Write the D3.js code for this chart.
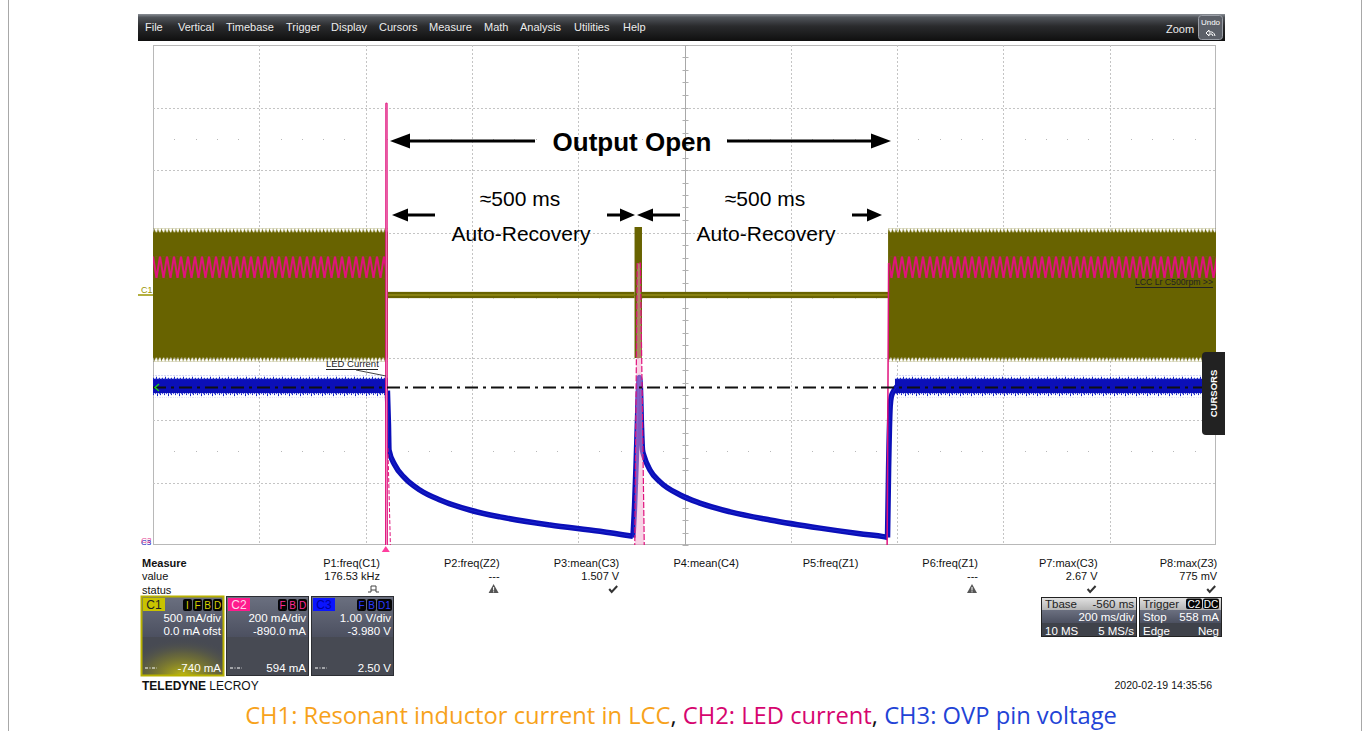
<!DOCTYPE html>
<html><head><meta charset="utf-8">
<script src="https://cdn.jsdelivr.net/npm/d3@7"></script>
<style>
html,body{margin:0;padding:0;background:#fff;}
svg{display:block;font-family:"Liberation Sans",Arial,sans-serif;}
</style></head><body>
<svg id="c" width="1371" height="731"></svg>
<script>
// ---------------- data ----------------
const menuItems = ["File","Vertical","Timebase","Trigger","Display","Cursors","Measure","Math","Analysis","Utilities","Help"];
const menuX = [145,178,226,286,331,379,429,484,520,574,623];
const timeDomain = [0, 2000];           // ms, 200 ms/div, 10 div
const divDomain = [-4, 4];              // 8 vertical divisions
const chPerDiv = [500, 200, 1.0];       // C1 mA/div, C2 mA/div, C3 V/div
const chOffset = [0, -890, -3.98];      // C1 mA, C2 mA, C3 V
// CH1 resonant inductor current (mA): [tStart, tEnd, min, max]
const ch1Active = [[0, 442, -500, 500], [1383, 2000, -500, 500]];
const ch1Burst = [[906, 920, -504, 544]];
const ch1Idle = [[442, 906, -25, 25], [920, 1383, -25, 25]];
// CH2 LED current (mA)
const ch2Active = [[0, 438, 944, 1014], [1386, 2000, 944, 1014]];
const ch2Spike = [[437.5, 0], [438, 1504], [440.5, 1504], [441, 0]];
const ch2Tail = [[442, 400], [448, 0]];
const ch2Burst = [[906, 0], [911, 992], [917, 992], [925, 0]];
const ch2Restart = [[1381, 0], [1384, 990], [1386, 990]];
// CH3 OVP pin voltage (V)
const ch3Active = [[0, 442, 2.41, 2.64], [1396, 2000, 2.41, 2.64]];
const ch3Decay1 = [[441,2.45],[443,1.9],[444,1.5],[455,1.26],[474,1.05],[502,0.86],[540,0.70],[596,0.54],[653,0.43],[747,0.30],[841,0.20],[903,0.12]];
const ch3Decay2 = [[903,0.10],[906,0.6],[909,1.3],[912,2.1],[914,2.55],[915,2.66],[917,2.5],[919,1.9],[921,1.5],[924,1.4],[935,1.18],[954,0.99],[992,0.78],[1029,0.65],[1086,0.51],[1161,0.38],[1255,0.25],[1330,0.16],[1377,0.11],[1382,0.10]];
const ch3Restart = [[1382,0.10],[1384,1.2],[1387,2.2],[1389,2.35],[1394,2.45],[1400,2.52]];
const ch3Level = 2.50;
// measurements
const measNames = ["P1:freq(C1)","P2:freq(Z2)","P3:mean(C3)","P4:mean(C4)","P5:freq(Z1)","P6:freq(Z1)","P7:max(C3)","P8:max(Z3)"];
const measValues = ["176.53 kHz","---","1.507 V","","","---","2.67 V","775 mV"];
const measStatus = ["pulse","warn","check","","","warn","check","check"];
const chLabels = ["C1","C2","C3"];
const chBadges = [["I","F","B","D"],["F","B","D"],["F","B","D1"]];
const chLine1 = ["500 mA/div","200 mA/div","1.00 V/div"];
const chLine2 = ["0.0 mA ofst","-890.0 mA","-3.980 V"];
const chLine3 = ["-740 mA","594 mA","2.50 V"];
const tbaseRows = [["Tbase","-560 ms"],["","200 ms/div"],["10 MS","5 MS/s"]];
const trigRows = [["Trigger",""],["Stop","558 mA"],["Edge","Neg"]];
const captionParts = [["CH1: Resonant inductor current in LCC","#f7a21b"],[", ","#111"],["CH2: LED current","#d6056f"],[", ","#111"],["CH3: OVP pin voltage","#2243d6"]];

// ---------------- setup ----------------
const svg = d3.select("#c");
const P = {x0:153, x1:1216, y0:45, y1:545};
const x = d3.scaleLinear().domain(timeDomain).range([P.x0, P.x1]);
const yDiv = d3.scaleLinear().domain(divDomain).range([P.y1, P.y0]);
const chY = chPerDiv.map((pd,i)=>d3.scaleLinear().domain([divDomain[0]*pd - chOffset[i], divDomain[1]*pd - chOffset[i]]).range([P.y1, P.y0]));
const [y1, y2, y3] = chY;
const OLIVE = "#686300", MAG = "#e0127d", BLUE = "#0b0fb8";

const defs = svg.append("defs");
defs.append("clipPath").attr("id","plotClip").append("rect")
  .attr("x",P.x0).attr("y",P.y0).attr("width",P.x1-P.x0).attr("height",P.y1-P.y0);
const mg = defs.append("linearGradient").attr("id","menuG").attr("x1",0).attr("y1",0).attr("x2",0).attr("y2",1);
[["0%","#8a8f96"],["12%","#50545a"],["45%","#2a2b2d"],["100%","#0f0f0f"]].forEach(s=>mg.append("stop").attr("offset",s[0]).attr("stop-color",s[1]));
const bg = defs.append("linearGradient").attr("id","boxG").attr("x1",0).attr("y1",0).attr("x2",0).attr("y2",1);
[["0%","#6b7080"],["100%","#4c5060"]].forEach(s=>bg.append("stop").attr("offset",s[0]).attr("stop-color",s[1]));
const lg = defs.append("linearGradient").attr("id","lightG").attr("x1",0).attr("y1",0).attr("x2",0).attr("y2",1);
[["0%","#e4e4e4"],["100%","#b4b4b4"]].forEach(s=>lg.append("stop").attr("offset",s[0]).attr("stop-color",s[1]));
const rg = defs.append("radialGradient").attr("id","glowG").attr("cx","50%").attr("cy","100%").attr("r","75%");
[["0%","#d8d000",0.85],["60%","#8a8620",0.4],["100%","#474a52",0]].forEach(s=>rg.append("stop").attr("offset",s[0]).attr("stop-color",s[1]).attr("stop-opacity",s[2]));

// page frame
svg.append("line").attr("x1",8.5).attr("x2",8.5).attr("y1",0).attr("y2",731).attr("stroke","#a8a8a8");
svg.append("line").attr("x1",1361.5).attr("x2",1361.5).attr("y1",0).attr("y2",731).attr("stroke","#a8a8a8");

// menu bar
svg.append("rect").attr("x",138).attr("y",14).attr("width",1087).attr("height",27).attr("fill","url(#menuG)");
svg.selectAll("text.menu").data(menuItems).join("text").attr("class","menu")
  .attr("x",(d,i)=>menuX[i]).attr("y",31).attr("fill","#ececec").attr("font-size",11).text(d=>d);
svg.append("text").attr("x",1166).attr("y",33).attr("fill","#ececec").attr("font-size",11).text("Zoom");
svg.append("rect").attr("x",1198.5).attr("y",15.5).attr("width",24).attr("height",24).attr("rx",3)
  .attr("fill","#5c6068").attr("stroke","#9a9ea6");
svg.append("text").attr("x",1210.5).attr("y",25).attr("text-anchor","middle").attr("fill","#fff").attr("font-size",8).text("Undo");
svg.append("path").attr("d","M1215,36 q-1,-5 -6,-4 l0,-2 l-3,3 l3,3 l0,-2 q4,-1 4,2").attr("fill","none").attr("stroke","#fff").attr("stroke-width",1);

// ---------------- grid ----------------
const grid = svg.append("g");
grid.append("rect").attr("x",P.x0+0.5).attr("y",P.y0+0.5).attr("width",P.x1-P.x0-1).attr("height",P.y1-P.y0-1)
  .attr("fill","none").attr("stroke","#b8b8b8");
d3.range(1,10).filter(i=>i!==5).forEach(i=>{
  const xx = Math.round(x(i*200))+0.5;
  grid.append("line").attr("x1",xx).attr("x2",xx).attr("y1",P.y0).attr("y2",P.y1)
    .attr("stroke","#c4c4c4").attr("stroke-dasharray","2,2");
});
d3.range(-3,4).filter(j=>j!==0).forEach(j=>{
  const yy = Math.round(yDiv(j))+0.5;
  grid.append("line").attr("x1",P.x0).attr("x2",P.x1).attr("y1",yy).attr("y2",yy)
    .attr("stroke","#c4c4c4").attr("stroke-dasharray","2,2");
});
const cx = Math.round(x(1000))+0.5, cy = Math.round(yDiv(0))+0.5;
grid.append("line").attr("x1",cx).attr("x2",cx).attr("y1",P.y0).attr("y2",P.y1).attr("stroke","#a8a8a8");
grid.append("line").attr("x1",P.x0).attr("x2",P.x1).attr("y1",cy).attr("y2",cy).attr("stroke","#a8a8a8");
d3.range(-20,21).forEach(k=>{
  const yy = Math.round(yDiv(k*0.2))+0.5;
  grid.append("line").attr("x1",cx-3).attr("x2",cx+3).attr("y1",yy).attr("y2",yy).attr("stroke","#b0b0b0");
});
d3.range(1,50).forEach(k=>{
  const xx = Math.round(x(k*40))+0.5;
  grid.append("line").attr("x1",xx).attr("x2",xx).attr("y1",cy-3).attr("y2",cy+3).attr("stroke","#b0b0b0");
});
[2.5,-2.5].forEach(d=>{
  d3.range(1,50).filter(k=>k%5!==0).forEach(k=>{
    grid.append("rect").attr("x",Math.round(x(k*40))).attr("y",Math.round(yDiv(d))).attr("width",1).attr("height",1).attr("fill","#b8b8b8");
  });
});

// ---------------- traces ----------------
const tr = svg.append("g").attr("clip-path","url(#plotClip)");
function mkPattern(id, yTop, h, w, draw){
  const p = defs.append("pattern").attr("id",id).attr("patternUnits","userSpaceOnUse")
    .attr("x",P.x0).attr("y",yTop).attr("width",w).attr("height",h);
  draw(p, w, h);
}
const ch1Top = y1(500), ch1Bot = y1(-500);
mkPattern("olTop", ch1Top-4, 5, 3.6, (p,w,h)=>p.append("path").attr("d",`M0,${h} L${w*0.35},0 L${w*0.55},${h*0.4} L${w},${h} Z`).attr("fill",OLIVE));
mkPattern("olBot", ch1Bot-1, 5, 3.6, (p,w,h)=>p.append("path").attr("d",`M0,0 L${w*0.35},${h} L${w*0.55},${h*0.6} L${w},0 Z`).attr("fill",OLIVE));
ch1Active.forEach(d=>{
  tr.append("rect").attr("x",x(d[0])).attr("y",y1(d[3])).attr("width",x(d[1])-x(d[0])).attr("height",y1(d[2])-y1(d[3])).attr("fill",OLIVE);
  tr.append("rect").attr("x",x(d[0])).attr("y",ch1Top-4).attr("width",x(d[1])-x(d[0])).attr("height",5).attr("fill","url(#olTop)");
  tr.append("rect").attr("x",x(d[0])).attr("y",ch1Bot-1).attr("width",x(d[1])-x(d[0])).attr("height",5).attr("fill","url(#olBot)");
});
ch1Idle.forEach(d=>{
  tr.append("rect").attr("x",x(d[0])).attr("y",y1(d[3])).attr("width",x(d[1])-x(d[0])).attr("height",y1(d[2])-y1(d[3])).attr("fill",OLIVE);
  tr.append("line").attr("x1",x(d[0])).attr("x2",x(d[1])).attr("y1",y1(0)).attr("y2",y1(0)).attr("stroke","#a8a020").attr("stroke-width",1.2);
});
ch1Burst.forEach(d=>{
  tr.append("rect").attr("x",x(d[0])).attr("y",y1(d[3])).attr("width",x(d[1])-x(d[0])).attr("height",y1(d[2])-y1(d[3])).attr("fill",OLIVE);
});

// CH3 blue
mkPattern("blTop", y3(2.64)-3, 4, 9, (p)=>{
  [[0,2],[2,1],[3,3],[5,1],[6,2],[8,1]].forEach(r=>p.append("rect").attr("x",r[0]).attr("y",4-r[1]).attr("width",1).attr("height",r[1]).attr("fill","#1a28c8"));
});
mkPattern("blBot", y3(2.41), 4, 11, (p)=>{
  [[0,2],[2,1],[4,3],[6,1],[7,2],[9,1]].forEach(r=>p.append("rect").attr("x",r[0]).attr("y",0).attr("width",1).attr("height",r[1]).attr("fill","#1a28c8"));
});
ch3Active.forEach(d=>{
  tr.append("rect").attr("x",x(d[0])).attr("y",y3(d[3])).attr("width",x(d[1])-x(d[0])).attr("height",y3(d[2])-y3(d[3])).attr("fill",BLUE);
  tr.append("rect").attr("x",x(d[0])).attr("y",y3(2.64)-3).attr("width",x(d[1])-x(d[0])).attr("height",4).attr("fill","url(#blTop)");
  tr.append("rect").attr("x",x(d[0])).attr("y",y3(2.41)).attr("width",x(d[1])-x(d[0])).attr("height",4).attr("fill","url(#blBot)");
});
const line3 = d3.line().x(d=>x(d[0])).y(d=>y3(d[1])).curve(d3.curveMonotoneX);
[ch3Decay1, ch3Decay2, ch3Restart].forEach(arr=>{
  tr.append("path").attr("d",line3(arr)).attr("fill","none").attr("stroke",BLUE).attr("stroke-width",5.5).attr("stroke-linejoin","round");
  tr.append("path").attr("d",line3(arr)).attr("fill","none").attr("stroke","#2030d8").attr("stroke-width",1).attr("opacity",0.6);
});

// CH2 magenta
const bandTop = y2(1014), bandH = y2(944)-y2(1014);
mkPattern("zig", bandTop, bandH, 7, (p,w,h)=>p.append("path").attr("d",`M0,0 L${w/2},${h} L${w},0`).attr("fill","none").attr("stroke",MAG).attr("stroke-width",2));
ch2Active.forEach(d=>{
  tr.append("rect").attr("x",x(d[0])).attr("y",bandTop).attr("width",x(d[1])-x(d[0])).attr("height",bandH).attr("fill","url(#zig)");
});
const line2 = d3.line().x(d=>x(d[0])).y(d=>y2(d[1]));
tr.append("path").attr("d",line2(ch2Spike)+"Z").attr("fill","#f2a6cc").attr("stroke",MAG).attr("stroke-width",1);
tr.append("path").attr("d",line2(ch2Tail)).attr("fill","none").attr("stroke",MAG).attr("stroke-width",1).attr("stroke-dasharray","4,2");
tr.append("path").attr("d",line2(ch2Burst)).attr("fill","#f2a6cc").attr("fill-opacity",0.5).attr("stroke",MAG).attr("stroke-width",1.2).attr("stroke-dasharray","6,2");
tr.append("path").attr("d",line2(ch2Restart)).attr("fill","none").attr("stroke",MAG).attr("stroke-width",1.5);

// CH3 reference level (dash-dot)
tr.append("line").attr("x1",P.x0).attr("x2",P.x1).attr("y1",y3(ch3Level)).attr("y2",y3(ch3Level))
  .attr("stroke","#111").attr("stroke-width",2).attr("stroke-dasharray","13,5,3,5");

// ---------------- markers/labels inside scope ----------------
svg.append("text").attr("x",141).attr("y",293).attr("font-size",9).attr("fill","#9a9400").text("C1");
svg.append("line").attr("x1",138).attr("x2",P.x0).attr("y1",y1(0)).attr("y2",y1(0)).attr("stroke","#9a9400").attr("stroke-width",1.5);
svg.append("text").attr("x",141).attr("y",545).attr("font-size",8).attr("fill",BLUE)
  .html('C3<tspan dx="-10" dy="-2" fill="'+MAG+'" opacity="0.8">C2</tspan>');
svg.append("path").attr("d",`M${P.x0+6},${y3(ch3Level)-3.5} L${P.x0+2},${y3(ch3Level)} L${P.x0+6},${y3(ch3Level)+3.5}`)
  .attr("fill","none").attr("stroke","#1ec81e").attr("stroke-width",1.5);
const trigX = x(438);
svg.append("path").attr("d",`M${trigX-4},${552} L${trigX+4},${552} L${trigX},${546} Z`).attr("fill","#ff3d9e");
// LED current label
svg.append("text").attr("x",326).attr("y",367).attr("font-size",9.5).attr("fill","#222").text("LED Current");
svg.append("line").attr("x1",326).attr("x2",378).attr("y1",369.5).attr("y2",369.5).attr("stroke","#222");
svg.append("line").attr("x1",356).attr("x2",386).attr("y1",370).attr("y2",376).attr("stroke","#444");
// LCC label
svg.append("text").attr("x",1135).attr("y",285).attr("font-size",9.5).attr("fill","#222")
  .attr("textLength",78).attr("lengthAdjust","spacingAndGlyphs").text("LCC Lr C500rpm >>");
svg.append("line").attr("x1",1135).attr("x2",1213).attr("y1",287.5).attr("y2",287.5).attr("stroke","#222");
// CURSORS tab
svg.append("path").attr("d","M1225,352 L1206,352 Q1202,352 1202,356 L1202,431 Q1202,435 1206,435 L1225,435 Z").attr("fill","#222");
svg.append("text").attr("transform","translate(1217,393.5) rotate(-90)").attr("text-anchor","middle")
  .attr("font-size",9.5).attr("font-weight","bold").attr("fill","#fff").text("CURSORS");

// ---------------- annotations ----------------
const ann = svg.append("g");
function arrow(xTail, xHead, yy, lw, hl, hw){
  const dir = Math.sign(xHead - xTail);
  ann.append("line").attr("x1",xTail).attr("x2",xHead - dir*hl*0.8).attr("y1",yy).attr("y2",yy).attr("stroke","#000").attr("stroke-width",lw);
  ann.append("path").attr("d",`M${xHead},${yy} L${xHead-dir*hl},${yy-hw/2} L${xHead-dir*hl},${yy+hw/2} Z`).attr("fill","#000");
}
arrow(535, 390, 141, 3, 20, 15);
arrow(727, 891, 141, 3, 20, 15);
ann.append("text").attr("x",632).attr("y",151).attr("text-anchor","middle").attr("font-size",26).attr("font-weight","bold").text("Output Open");
arrow(435, 392, 215, 3, 16, 13);
arrow(607, 635, 215, 3, 15, 13);
arrow(680, 637, 215, 3, 16, 13);
arrow(852, 882, 215, 3, 15, 13);
[[520],[765]].forEach(c=>{
  ann.append("text").attr("x",c[0]).attr("y",206).attr("text-anchor","middle").attr("font-size",21).text("≈500 ms");
  ann.append("text").attr("x",c[0]+1).attr("y",241).attr("text-anchor","middle").attr("font-size",21).text("Auto-Recovery");
});

// ---------------- measurement table ----------------
const mt = svg.append("g").attr("font-size",11).attr("fill","#111");
mt.append("text").attr("x",142).attr("y",567).attr("font-weight","bold").text("Measure");
mt.append("text").attr("x",142).attr("y",580).text("value");
mt.append("text").attr("x",142).attr("y",594).text("status");
const colR = measNames.map((d,i)=>380 + i*119.6);
mt.selectAll("text.mn").data(measNames).join("text").attr("class","mn").attr("x",(d,i)=>colR[i]).attr("y",567).attr("text-anchor","end").text(d=>d);
mt.selectAll("text.mv").data(measValues).join("text").attr("class","mv").attr("x",(d,i)=>colR[i]).attr("y",580).attr("text-anchor","end").text(d=>d);
measStatus.forEach((s,i)=>{
  const cxs = colR[i]-6, cys = 589;
  if(s==="check"){
    mt.append("path").attr("d",`M${cxs-4},${cys} L${cxs-1.5},${cys+3} L${cxs+4},${cys-3}`).attr("fill","none").attr("stroke","#333").attr("stroke-width",2);
  } else if(s==="warn"){
    mt.append("path").attr("d",`M${cxs},${cys-5} L${cxs+5},${cys+4} L${cxs-5},${cys+4} Z`).attr("fill","#555");
    mt.append("rect").attr("x",cxs-0.5).attr("y",cys-2).attr("width",1).attr("height",3.5).attr("fill","#fff");
    mt.append("rect").attr("x",cxs-0.5).attr("y",cys+2.3).attr("width",1).attr("height",1).attr("fill","#fff");
  } else if(s==="pulse"){
    mt.append("path").attr("d",`M${cxs-6},${cys+3} L${cxs-3},${cys+3} L${cxs-3},${cys-3} L${cxs+2},${cys-3} L${cxs+2},${cys+3} L${cxs+5},${cys+3}`).attr("fill","none").attr("stroke","#444").attr("stroke-width",1);
    mt.append("line").attr("x1",cxs-3).attr("x2",cxs+2).attr("y1",cys+1).attr("y2",cys+1).attr("stroke","#444");
  }
});

// channel boxes
const tabFill = ["#c9c300","#ff1b8d","#0a14ff"], tabText = ["#222","#ffd6ea","#0000a0"], badgeText = ["#d8d000","#ff2a95","#2a3aff"];
chLabels.forEach((lab,i)=>{
  const bx = 141 + i*85, by = 596, bw = 83, bh = 80;
  const g = svg.append("g");
  g.append("rect").attr("x",bx).attr("y",by).attr("width",bw).attr("height",41).attr("fill","url(#boxG)");
  g.append("rect").attr("x",bx).attr("y",by+41).attr("width",bw).attr("height",bh-41).attr("fill","#474a53");
  if(i===0) g.append("rect").attr("x",bx).attr("y",by+30).attr("width",bw).attr("height",bh-30).attr("fill","url(#glowG)");
  g.append("rect").attr("x",bx+0.5).attr("y",by+0.5).attr("width",bw-1).attr("height",bh-1).attr("fill","none")
    .attr("stroke", i===0 ? "#b7b000" : "#2c2e33").attr("stroke-width", i===0 ? 2 : 1);
  g.append("rect").attr("x",bx+2).attr("y",by+2).attr("width",22).attr("height",13).attr("fill",tabFill[i]);
  g.append("text").attr("x",bx+13).attr("y",by+13).attr("text-anchor","middle").attr("font-size",12).attr("fill",tabText[i]).text(lab);
  const bad = chBadges[i];
  let rx = bx + bw - 2;
  for(let k=bad.length-1;k>=0;k--){
    const w = bad[k].length>1 ? 15 : 9;
    rx -= w;
    g.append("rect").attr("x",rx).attr("y",by+3).attr("width",w).attr("height",12).attr("rx",2).attr("fill","#050505");
    g.append("text").attr("x",rx+w/2).attr("y",by+13).attr("text-anchor","middle").attr("font-size",10).attr("fill",badgeText[i]).text(bad[k]);
    rx -= 1;
  }
  g.append("text").attr("x",bx+bw-3).attr("y",by+26).attr("text-anchor","end").attr("font-size",11.5).attr("fill","#fff").text(chLine1[i]);
  g.append("text").attr("x",bx+bw-3).attr("y",by+39).attr("text-anchor","end").attr("font-size",11.5).attr("fill","#fff").text(chLine2[i]);
  g.append("text").attr("x",bx+bw-3).attr("y",by+76).attr("text-anchor","end").attr("font-size",11.5).attr("fill","#fff").text(chLine3[i]);
  g.append("line").attr("x1",bx+4).attr("x2",bx+16).attr("y1",by+72).attr("y2",by+72).attr("stroke","#fff").attr("stroke-dasharray","3,1.5,1,1.5");
});
svg.append("text").attr("x",142).attr("y",690).attr("font-size",12).attr("fill","#111")
  .html('<tspan font-weight="bold">TELEDYNE</tspan> LECROY');

// timebase & trigger boxes
function infoBox(bx, bw, rows, badges){
  const g = svg.append("g").attr("font-size",11.5);
  const by = 597;
  g.append("rect").attr("x",bx).attr("y",by).attr("width",bw).attr("height",40).attr("fill","#3f424a");
  g.append("rect").attr("x",bx).attr("y",by).attr("width",bw).attr("height",13).attr("fill","url(#lightG)");
  g.append("rect").attr("x",bx).attr("y",by+13).attr("width",bw).attr("height",13).attr("fill","url(#boxG)");
  g.append("rect").attr("x",bx+0.5).attr("y",by+0.5).attr("width",bw-1).attr("height",39).attr("fill","none").attr("stroke","#222");
  rows.forEach((r,k)=>{
    const col = k===0 ? "#222" : "#fff";
    g.append("text").attr("x",bx+4).attr("y",by+11+k*13.3).attr("fill",col).text(r[0]);
    g.append("text").attr("x",bx+bw-3).attr("y",by+11+k*13.3).attr("text-anchor","end").attr("fill",col).text(r[1]);
  });
  if(badges){
    let rx = bx + bw - 2;
    for(let k=badges.length-1;k>=0;k--){
      rx -= 17;
      g.append("rect").attr("x",rx).attr("y",by+1.5).attr("width",16).attr("height",10.5).attr("rx",2).attr("fill","#050505");
      g.append("text").attr("x",rx+8).attr("y",by+10.5).attr("text-anchor","middle").attr("font-size",10).attr("fill","#fff").text(badges[k]);
    }
  }
}
infoBox(1041, 96, tbaseRows, null);
infoBox(1139, 83, trigRows, ["C2","DC"]);
svg.append("text").attr("x",1212).attr("y",689).attr("text-anchor","end").attr("font-size",10.5).attr("fill","#111").text("2020-02-19 14:35:56");

// caption
const cap = svg.append("text").attr("x",681).attr("y",724).attr("text-anchor","middle")
  .attr("font-family","'Open Sans','Noto Sans',sans-serif").attr("font-size",21);
captionParts.forEach(p=>cap.append("tspan").attr("fill",p[1]).text(p[0]));
const cl = cap.node().getComputedTextLength();
if(cl>0) cap.attr("font-size", 21*872/cl);
</script>
</body></html>
